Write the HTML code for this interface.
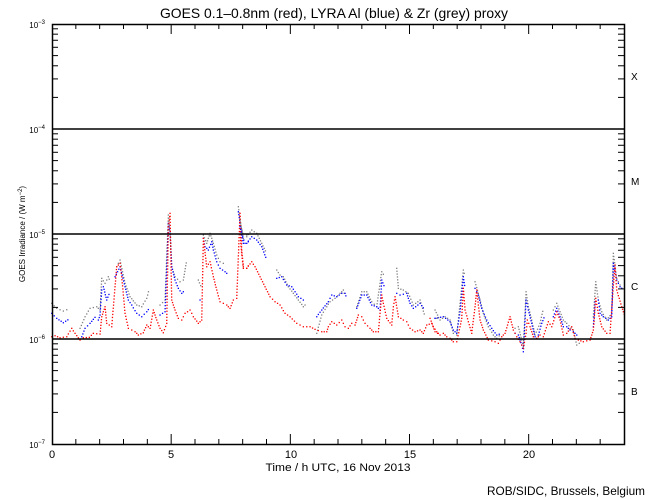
<!DOCTYPE html>
<html><head><meta charset="utf-8"><style>
html,body{margin:0;padding:0;background:#fff;}
svg{display:block;}
text{font-family:"Liberation Sans",sans-serif;fill:#000;}
</style></head><body>
<svg id="s" width="650" height="500" xmlns="http://www.w3.org/2000/svg">
<rect width="650" height="500" fill="#fff"/>
<g id="data"></g>
<g id="ax" stroke="#000" stroke-width="1" fill="none"></g>
<rect x="52.5" y="24.5" width="572" height="420" fill="none" stroke="#000" stroke-width="1.5"/>
<line x1="52" y1="129" x2="624" y2="129" stroke="#000" stroke-width="1.5"/>
<line x1="52" y1="234" x2="624" y2="234" stroke="#000" stroke-width="1.5"/>
<line x1="52" y1="339" x2="624" y2="339" stroke="#000" stroke-width="1.5"/>
<text x="334" y="18" font-size="14" text-anchor="middle" textLength="348" lengthAdjust="spacingAndGlyphs">GOES 0.1–0.8nm (red), LYRA Al (blue) &amp; Zr (grey) proxy</text>
<g font-size="8" text-anchor="end">
<text x="45" y="28">10<tspan dy="-4" font-size="6">−3</tspan></text>
<text x="45" y="133">10<tspan dy="-4" font-size="6">−4</tspan></text>
<text x="45" y="238">10<tspan dy="-4" font-size="6">−5</tspan></text>
<text x="45" y="343">10<tspan dy="-4" font-size="6">−6</tspan></text>
<text x="45" y="448">10<tspan dy="-4" font-size="6">−7</tspan></text>
</g>
<g font-size="11" text-anchor="middle">
<text x="52" y="458">0</text><text x="171" y="458">5</text><text x="291" y="458">10</text>
<text x="410" y="458">15</text><text x="529" y="458">20</text>
<text x="338" y="471" textLength="145" lengthAdjust="spacingAndGlyphs">Time / h UTC, 16 Nov 2013</text>
</g>
<g font-size="10">
<text x="631" y="80">X</text><text x="631" y="185">M</text><text x="631" y="290">C</text><text x="631" y="395">B</text>
</g>
<text x="645" y="495" font-size="12" text-anchor="end" textLength="158" lengthAdjust="spacingAndGlyphs">ROB/SIDC, Brussels, Belgium</text>
<text transform="translate(25,234) rotate(-90)" font-size="8" text-anchor="middle">GOES Irradiance / (W m<tspan dy="-3" font-size="6">−2</tspan><tspan dy="3">)</tspan></text>
</svg>
<script>
var NS="http://www.w3.org/2000/svg";
var ax=document.getElementById('ax');
function ln(x1,y1,x2,y2){var l=document.createElementNS(NS,'line');l.setAttribute('x1',x1);l.setAttribute('y1',y1);l.setAttribute('x2',x2);l.setAttribute('y2',y2);ax.appendChild(l);}
for(var h=1;h<24;h++){var x=52+h*572/24;var L=(h%5==0)?10:5;ln(x,444,x,444-L);ln(x,24,x,24+L);}
for(var d=0;d<4;d++){for(var k=2;k<10;k++){var y=444-105*(d+Math.log10(k));ln(52,y,58,y);ln(624,y,618,y);}}
var g=document.getElementById('data');
function seg(arr,ox,oy,col){
 var pts=arr.map(function(p){return [p[0]/3+ox,p[1]/3+oy];});
 for(var i=0;i<pts.length-1;i++){var a=pts[i],b=pts[i+1];var dx=b[0]-a[0],dy=b[1]-a[1];var n=Math.max(1,Math.round(Math.sqrt(dx*dx+dy*dy)/3));
  for(var j=0;j<n;j++){var t=j/n;var r=document.createElementNS(NS,'rect');r.setAttribute('x',(a[0]+dx*t-0.6).toFixed(1));r.setAttribute('y',(a[1]+dy*t-0.6).toFixed(1));r.setAttribute('width',1.3);r.setAttribute('height',1.3);r.setAttribute('fill',col);g.appendChild(r);}}
}
var GR='#808080',BL='#0000ff',RD='#ff0000';
[[[5,310],[20,325],[40,333],[60,325]],[[90,385],[105,350],[120,325],[140,320],[150,330],[155,235],[165,250],[175,230],[180,245]],[[200,200],[210,180],[225,250],[240,290],[260,315],[275,320],[290,295],[298,265]],[[330,315],[345,300],[355,45],[360,100],[365,200],[375,230],[390,245],[400,240],[410,180]],[[445,240],[455,265]],[[460,105],[470,130],[480,100],[490,130],[500,165],[510,185],[530,195]],[[565,20],[572,75],[578,100],[590,105],[600,100]]].forEach(function(s){seg(s,50,200,GR);});
[[[5,340],[20,355],[40,368],[60,355]],[[95,410],[105,385],[120,370],[135,352],[145,360],[150,345],[155,270],[160,260],[170,300],[180,275]],[[195,230],[210,200],[225,260],[235,300],[245,315],[260,340],[275,350],[290,335],[300,322]],[[330,345],[345,335],[355,70],[360,95],[365,200],[375,240],[385,265],[395,280],[405,270]],[[450,300],[455,295]],[[460,115],[465,140],[475,150],[485,125],[490,150],[500,185],[510,205],[525,215],[535,225]],[[565,35],[570,70],[578,110],[585,130],[595,125],[600,120]]].forEach(function(s){seg(s,50,200,BL);});
seg([[5,410],[15,407],[30,413],[50,410],[65,385],[75,400],[90,420],[100,413],[118,412],[130,400],[150,402],[155,350],[165,320],[170,370],[185,380],[195,260],[200,200],[210,190],[215,230],[225,340],[235,385],[255,395],[265,405],[280,398],[290,375],[300,385],[310,330],[320,360],[330,385],[340,398],[350,370],[355,80],[360,40],[365,300],[375,330],[385,355],[395,360],[405,340],[420,330],[430,350],[445,370],[455,360],[460,115],[470,200],[480,185],[490,230],[500,270],[510,305],[530,315],[540,325],[550,300],[560,295],[570,40],[575,150],[580,200],[590,205],[600,190]],50,200,RD);
[[[0,60],[10,115],[20,110],[35,90],[50,100],[65,130],[80,160]],[[110,210],[120,225],[130,230],[145,260],[160,280],[175,300],[190,320],[200,310]],[[230,400],[245,345],[260,320],[270,305],[285,295],[300,280],[310,270],[315,290]],[[350,320],[365,275],[380,275],[395,305],[410,320],[425,215],[435,230]],[[470,205],[475,265],[490,270],[505,280],[520,315],[540,300],[555,350]],[[590,355],[600,355]]].forEach(function(s){seg(s,240,200,GR);});
[[[0,80],[10,130],[20,130],[35,110],[50,120],[65,140],[80,180]],[[110,235],[125,230],[140,255],[155,260],[165,275],[175,290],[190,300],[200,305]],[[230,350],[245,330],[265,305],[275,285],[290,290],[305,280],[315,280],[320,295]],[[350,325],[365,285],[380,285],[395,315],[410,320],[420,330],[425,240],[435,265]],[[470,280],[480,285],[500,280],[510,310],[520,325],[540,310],[555,330]],[[585,355],[588,356]]].forEach(function(s){seg(s,240,200,BL);});
seg([[0,95],[5,165],[10,205],[20,205],[35,185],[45,200],[60,230],[75,260],[90,290],[105,305],[120,315],[135,340],[150,350],[170,370],[190,380],[210,380],[225,388],[245,395],[260,395],[265,380],[275,365],[290,375],[305,360],[315,380],[325,385],[335,370],[345,375],[355,345],[365,350],[375,370],[390,385],[400,395],[415,395],[425,285],[430,310],[440,355],[455,375],[460,320],[465,290],[475,350],[490,360],[500,365],[510,385],[525,395],[540,390],[550,400],[560,375],[575,370],[585,395],[600,405]],240,200,RD);
[[[15,270],[30,300],[45,290],[60,300],[70,340],[80,345],[90,250],[100,150],[105,170]],[[135,185],[145,220],[160,280],[175,320],[190,345],[200,355],[215,340]],[[255,325],[265,320],[275,360],[280,380],[288,215],[295,260],[305,300],[315,345],[330,310],[340,265]],[[370,270],[380,250],[390,275],[400,300],[410,310],[430,330],[440,375],[455,365]],[[490,290],[497,185],[505,240],[515,275],[530,300],[545,280],[550,100],[560,175],[570,195],[580,215]]].forEach(function(s){seg(s,430,220,GR);});
[[[15,295],[40,290],[60,305],[70,330],[80,340],[90,275],[100,170],[105,205]],[[135,205],[145,225],[155,265],[170,300],[185,325],[200,345],[215,340]],[[255,340],[265,345],[275,375],[280,395],[288,240],[295,270],[305,310],[315,350],[325,345],[335,310],[345,285]],[[370,290],[380,265],[390,290],[400,320],[410,320],[420,330],[430,335],[440,345],[450,345]],[[490,320],[495,245],[505,240],[510,280],[520,290],[535,300],[545,290],[550,130],[560,180],[570,200],[580,210]]].forEach(function(s){seg(s,430,220,BL);});
seg([[0,295],[10,320],[20,335],[30,345],[40,340],[50,350],[60,355],[70,365],[80,365],[90,320],[95,295],[100,205],[105,270],[115,305],[125,340],[135,260],[140,210],[150,300],[160,330],[175,360],[195,365],[205,370],[215,350],[225,340],[240,290],[250,330],[260,350],[270,365],[280,385],[288,340],[292,300],[300,320],[310,350],[320,355],[330,345],[340,350],[355,305],[365,320],[380,275],[390,300],[400,345],[410,340],[425,320],[435,355],[445,360],[460,365],[480,360],[490,330],[497,235],[505,280],[515,320],[530,340],[540,340],[550,195],[555,135],[560,210],[575,260],[585,290]],430,220,RD);
</script>
</body></html>
